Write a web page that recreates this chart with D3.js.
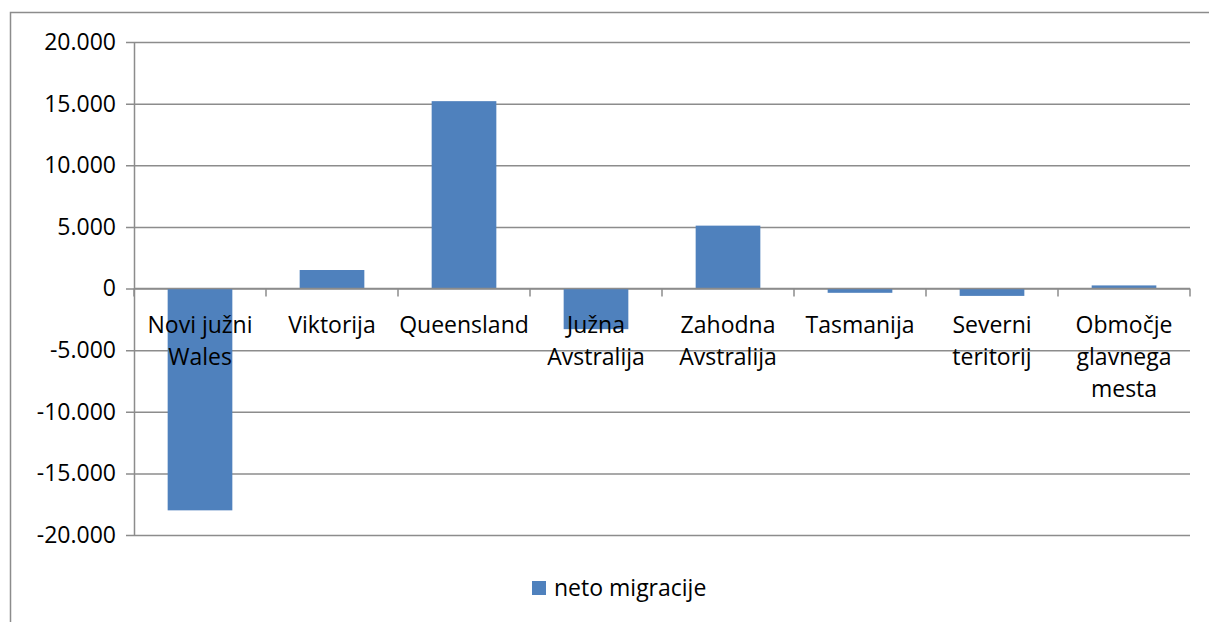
<!DOCTYPE html>
<html>
<head>
<meta charset="utf-8">
<script src="https://cdn.jsdelivr.net/npm/d3@7"></script>
<style>
  body { margin: 0; background: #fff; }
  svg text { font-family: "Open Sans", sans-serif; fill: #000; }
</style>
</head>
<body>
<div class="container"></div>
<script>
const categories = ['Novi južni Wales', 'Viktorija', 'Queensland', 'Južna Avstralija',
    'Zahodna Avstralija', 'Tasmanija', 'Severni teritorij', 'Območje glavnega mesta'];
// how the axis labels wrap in the original
const labelLines = [['Novi južni', 'Wales'], ['Viktorija'], ['Queensland'], ['Južna', 'Avstralija'],
    ['Zahodna', 'Avstralija'], ['Tasmanija'], ['Severni', 'teritorij'], ['Območje', 'glavnega', 'mesta']];
const netMigration = [-18000, 1500, 15200, -3300, 5100, -350, -600, 250];
const yTicks = [-20000, -15000, -10000, -5000, 0, 5000, 10000, 15000, 20000];
const seriesName = 'neto migracije';

const width = 1209;
const height = 622;
const margin = { top: 42, right: 19, bottom: 87, left: 134 };
const barColor = '#4f81bd';
const lineColor = '#8c8c8c';
const fontSize = '23px';

const svg = d3.select('.container')
    .append('svg')
    .attr('width', width)
    .attr('height', height);

// outer chart border (runs off the right and bottom edges)
svg.append('rect')
    .attr('x', 10.5)
    .attr('y', 12.5)
    .attr('width', 1400)
    .attr('height', 800)
    .attr('fill', 'none')
    .attr('stroke', lineColor)
    .attr('stroke-width', 1.5);

const x = d3.scaleBand()
    .domain(categories)
    .range([margin.left, width - margin.right])
    .paddingInner(0.51)
    .paddingOuter(0.255);

const y = d3.scaleLinear()
    .domain([-20000, 20000])
    .range([height - margin.bottom, margin.top]);

const fmt = v => d3.format(',')(v).replace(/,/g, '.').replace('−', '-');

// gridlines + y labels
const yAxis = d3.axisLeft(y)
    .tickValues(yTicks)
    .tickSize(-(width - margin.right - margin.left))
    .tickSizeOuter(0)
    .tickPadding(18)
    .tickFormat(fmt);

const gy = svg.append('g')
    .attr('transform', `translate(${margin.left},0)`)
    .call(yAxis);
gy.select('.domain').attr('stroke', lineColor).attr('stroke-width', 1.5);
gy.selectAll('.tick line')
    .attr('x1', -8)
    .attr('stroke', lineColor)
    .attr('stroke-width', 1.5);
gy.selectAll('.tick text')
    .style('font-size', fontSize)
    .style('font-family', '"Open Sans", sans-serif');

// bars
svg.append('g')
    .selectAll('rect')
    .data(categories)
    .join('rect')
    .attr('x', d => x(d))
    .attr('width', x.bandwidth())
    .attr('y', (d, i) => y(Math.max(0, netMigration[i])))
    .attr('height', (d, i) => Math.abs(y(netMigration[i]) - y(0)))
    .attr('fill', barColor);

// zero axis with category tick marks
const step = x.step();
const boundaries = d3.range(categories.length + 1).map(i => margin.left + i * step);
const gx = svg.append('g');
gx.append('line')
    .attr('x1', margin.left)
    .attr('x2', width - margin.right)
    .attr('y1', y(0))
    .attr('y2', y(0))
    .attr('stroke', lineColor)
    .attr('stroke-width', 1.5);
gx.selectAll('.cat-tick')
    .data(boundaries)
    .join('line')
    .attr('class', 'cat-tick')
    .attr('x1', d => d)
    .attr('x2', d => d)
    .attr('y1', y(0))
    .attr('y2', y(0) + 8)
    .attr('stroke', lineColor)
    .attr('stroke-width', 1.5);

// category labels
const labels = svg.append('g')
    .selectAll('text')
    .data(categories)
    .join('text')
    .attr('text-anchor', 'middle')
    .style('font-size', fontSize)
    .attr('transform', d => `translate(${x(d) + x.bandwidth() / 2},${y(0) + 44})`);
labels.selectAll('tspan')
    .data((d, i) => labelLines[i])
    .join('tspan')
    .attr('x', 0)
    .attr('y', (d, i) => i * 32)
    .text(d => d);

// legend
const legend = svg.append('g').attr('transform', 'translate(532,581)');
legend.append('rect')
    .attr('width', 14)
    .attr('height', 14)
    .attr('fill', barColor);
legend.append('text')
    .attr('x', 22)
    .attr('y', 15)
    .style('font-size', fontSize)
    .text(seriesName);
</script>
</body>
</html>
